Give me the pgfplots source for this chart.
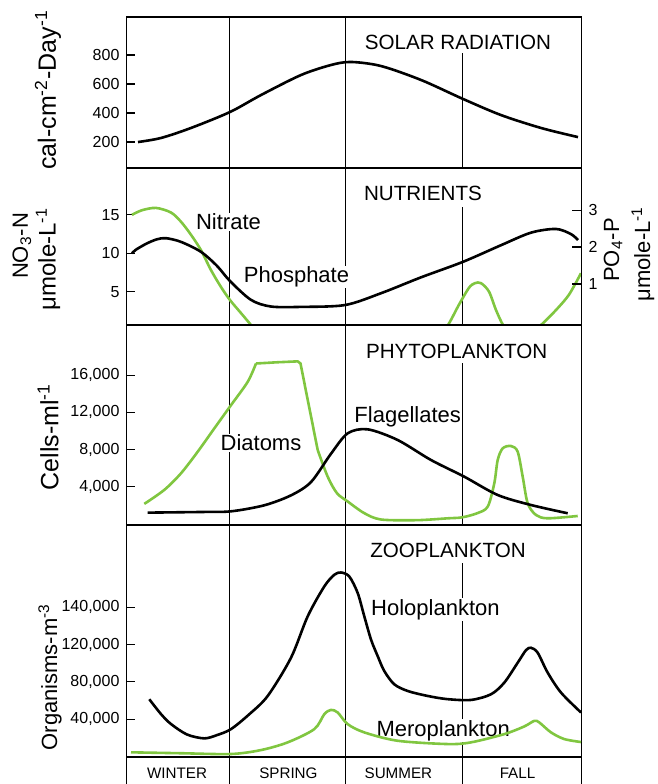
\documentclass[border=0pt]{standalone}
\usepackage{pgfplots}
\pgfplotsset{compat=1.18}
\usepackage{fontspec}
\setmainfont{Liberation Sans}
\definecolor{grn}{RGB}{128,198,64}
\pgfplotsset{
 panel/.style={scale only axis, width=227.5pt, xmin=-0.5, xmax=454.5, xtick=\empty,
   ytick pos=left, tick align=inside, major tick length=4.5pt,
   scaled y ticks=false,
   axis line style={line width=0.9pt},
   every tick/.style={black, line width=0.6pt},
   /pgf/number format/assume math mode=true,
   yticklabel style={font=\fontsize{8}{9}\selectfont},
   anchor=south west},
 cur/.style={line width=1.3pt, smooth, no marks},
}
\tikzset{
 vl/.style={line width=0.5pt, black},
 ttl/.style={font=\fontsize{10.3}{12}\selectfont, fill=white, inner sep=0.5pt},
 lab/.style={font=\fontsize{11}{13}\selectfont, fill=white, inner sep=0.5pt},
}
\newcommand{\vln}[3]{\draw[vl] ({axis cs:#1,0}|-{rel axis cs:0,#2}) -- ({axis cs:#1,0}|-{rel axis cs:0,#3});}
\begin{document}
\begin{tikzpicture}
\useasboundingbox (0,0) rectangle (329pt,392pt);
% ---------- Panel 1: solar radiation
\begin{axis}[panel, at={(63.25pt,308pt)}, height=75.5pt, ymin=21, ymax=1062,
  ytick={200,400,600,800}]
\vln{102.7}{0}{1}\vln{218.5}{0}{1}\vln{336}{0}{0.76}
\node[ttl] at (rel axis cs:0.7286,0.834) {SOLAR RADIATION};
\addplot[cur, black] coordinates {(11,200)(34,228)(64,297)(103,407)(134,524)(174,662)(204,731)(224,752)(254,724)(294,628)(336,497)(374,386)(414,297)(451,234)};
\end{axis}
% ---------- Panel 2: nutrients
\begin{axis}[panel, at={(63.25pt,229.5pt)}, height=78.5pt, ymin=0.65, ymax=21.1,
  ytick={5,10,15}]
\vln{102.7}{0}{1}\vln{218.5}{0}{1}\vln{336}{0}{0.753}
\node[ttl] at (rel axis cs:0.6516,0.841) {NUTRIENTS};
\node[lab] at (rel axis cs:0.2242,0.656) {Nitrate};
\node[lab] at (rel axis cs:0.3736,0.305) {Phosphate};
\addplot[cur, grn] coordinates {(5,15.0)(15,15.6)(29,15.9)(44,15.3)(54,14.1)(64,12.4)(74,10.4)(84,7.8)(94,5.6)(103,3.9)(114,2.2)(124,0.65)(130,-0.3)};
\addplot[cur, grn] coordinates {(312,-0.5)(321,0.65)(332,3.3)(342,5.5)(348,6.1)(354,6.1)(362,5.0)(369,2.6)(376,0.65)(383,-0.5)};
\addplot[cur, grn] coordinates {(402,-0.5)(414,0.65)(429,2.6)(442,4.6)(454,7.4)};
\end{axis}
\begin{axis}[panel, at={(63.25pt,229.5pt)}, height=78.5pt, ymin=-0.11, ymax=4.14,
  ytick pos=right, ytick={1,2,3}]
\addplot[cur, black] coordinates {(5,1.83)(9,1.93)(20,2.1)(30,2.21)(39,2.24)(54,2.14)(74,1.87)(90,1.49)(103,1.08)(124,0.57)(144,0.39)(174,0.38)(218,0.43)(254,0.75)(294,1.18)(336,1.6)(374,2.05)(404,2.39)(429,2.49)(444,2.35)(451,2.19)};
\end{axis}
% ---------- Panel 3: phytoplankton
\begin{axis}[panel, at={(63.25pt,129.5pt)}, height=100pt, ymin=-120, ymax=21390,
  ytick={4000,8000,12000,16000}, yticklabels={{4,000},{8,000},{12,000},{16,000}}]
\vln{102.7}{0}{1}\vln{218.5}{0}{1}\vln{336}{0}{0.81}
\node[ttl] at (rel axis cs:0.7257,0.8665) {PHYTOPLANKTON};
\node[lab] at (rel axis cs:0.2956,0.41) {Diatoms};
\node[lab] at (rel axis cs:0.618,0.5425) {Flagellates};
\addplot[cur, grn] coordinates {(17.3,2150)(37.3,3655)(54,5440)(70.7,7762)(87.3,10267)(104,12770)(120.7,15278)(129,17250)};
\addplot[line width=1.3pt, grn, no marks] coordinates {(129,17250)(150,17380)(170.7,17480)(173.5,17250)(190.7,7946)};
\addplot[cur, grn] coordinates {(190.7,7946)(200.7,5074)(210,3300)(221,2387)(237,1170)(254,470)(290,400)(321,600)(335,700)(350,1140)(360.7,1850)(367.3,4365)(370.7,6870)(375.7,8127)(384,8374)(390.7,7762)(395.7,5074)(400.7,2215)(409,957)(420.7,600)(450.7,850)};
\addplot[cur, black] coordinates {(20.7,1210)(74,1280)(104,1350)(137.3,2000)(164,3070)(184,4500)(204,7546)(220.7,9740)(240.7,10170)(270.7,9020)(304,6870)(337.3,5074)(370.7,3107)(404,2032)(440.7,1140)};
\end{axis}
% ---------- Panel 4: zooplankton
\begin{axis}[panel, at={(63.25pt,13.5pt)}, height=116pt, ymin=-533, ymax=248000, clip=false,
  ytick={40000,80000,120000,160000}, yticklabels={{40,000},{80,000},{120,000},{140,000}}]
\vln{102.7}{0}{1}\vln{218.5}{0}{1}\vln{336}{0}{0.835}
\draw[vl] ({axis cs:102.7,0}|-{rel axis cs:0,0}) -- ++(0pt,-14pt);
\draw[vl] ({axis cs:218.5,0}|-{rel axis cs:0,0}) -- ++(0pt,-14pt);
\draw[vl] ({axis cs:336,0}|-{rel axis cs:0,0}) -- ++(0pt,-14pt);
\draw[line width=0.9pt] (rel axis cs:0,0) -- ++(0pt,-14pt);
\draw[line width=0.9pt] (rel axis cs:1,0) -- ++(0pt,-14pt);
\node[ttl] at (rel axis cs:0.7066,0.892) {ZOOPLANKTON};
\node[lab] at (rel axis cs:0.679,0.636) {Holoplankton};
\node[lab] at (rel axis cs:0.696,0.114) {Meroplankton};
\addplot[cur, black] coordinates {(22.3,61333)(34,45440)(44,34773)(60,23573)(77.3,19413)(90,22933)(104,29333)(122,45000)(140.7,64853)(164,105813)(180.7,150187)(197.3,182187)(207.3,194667)(214,197120)(222.3,192853)(230.7,175147)(237.3,150187)(244,125333)(250.7,107520)(257.3,91520)(267.3,77333)(280.7,70187)(300,65000)(320,61500)(344,60587)(364,66667)(377.3,79147)(390.7,100480)(399,113920)(404,116480)(410.7,111147)(420.7,89813)(434,68480)(454,47147)};
\addplot[cur, grn] coordinates {(4,4480)(54,3500)(104,2667)(134,6900)(160.7,15147)(187.3,29333)(197.3,45333)(204,49920)(210.7,47147)(220.7,34667)(237.3,25813)(270.7,16853)(320.7,13333)(344,15147)(377.3,24000)(397.3,32213)(407.3,38187)(412.3,36480)(424,25813)(437.3,18667)(454,15500)};
\end{axis}
% season labels
\begin{scope}[every node/.style={font=\fontsize{7.6}{9}\selectfont}]
\node at (88.5pt,5.5pt) {WINTER};
\node at (144.2pt,5.5pt) {SPRING};
\node at (199.2pt,5.5pt) {SUMMER};
\node at (258.75pt,5.5pt) {FALL};
\end{scope}
% axis titles
\begin{scope}[every node/.style={rotate=90}]
\node[font=\fontsize{12.5}{14}\selectfont] at (24pt,347pt) {cal-cm\textsuperscript{-2}-Day\textsuperscript{-1}};
\node[font=\fontsize{11}{13}\selectfont] at (11pt,269pt) {NO\textsubscript{3}-N};
\node[font=\fontsize{12}{14}\selectfont] at (24pt,262.5pt) {μmole-L\textsuperscript{-1}};
\node[font=\fontsize{11}{13}\selectfont] at (306.5pt,267pt) {PO\textsubscript{4}-P};
\node[font=\fontsize{11}{13}\selectfont] at (321.5pt,265pt) {μmole-L\textsuperscript{-1}};
\node[font=\fontsize{12.5}{14}\selectfont] at (24pt,173.5pt) {Cells-ml\textsuperscript{-1}};
\node[font=\fontsize{11}{13}\selectfont] at (25pt,53.5pt) {Organisms-m\textsuperscript{-3}};
\end{scope}
\end{tikzpicture}
\end{document}
